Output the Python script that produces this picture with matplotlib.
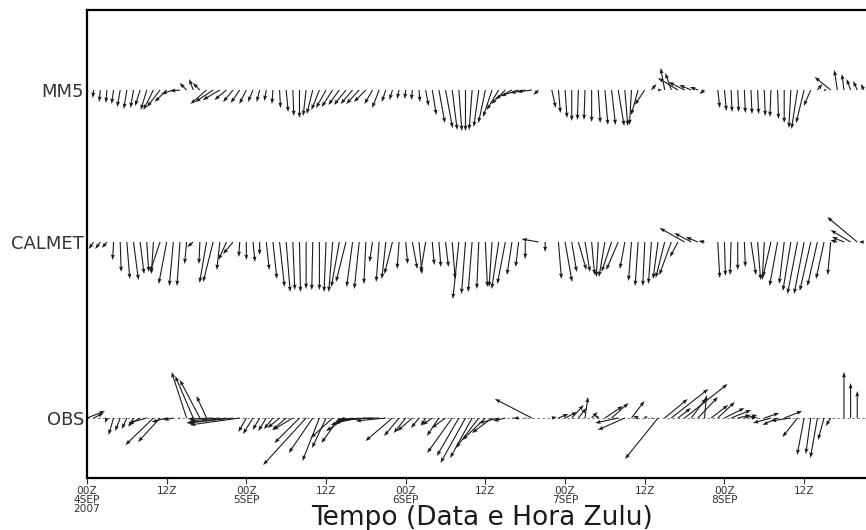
import numpy as np
import matplotlib
matplotlib.use('Agg')
import matplotlib.pyplot as plt

nan = np.nan
# hourly wind components (m/s) from 00Z 4SEP2007
hours = np.arange(118)

mm5_u = [-0.4,-0.2,-0.2,-0.2,-0.4,-0.6,-0.6,-0.6,-1.0,-1.2,-2.0,-2.6,-2.4,-2.4,-2.0,-1.4,-0.8,-1.4,-3.2,-3.6,
         -3.4,-2.4,-2.0,-1.8,-1.4,-1.0,-0.6,-0.4,-0.2,0.2,0.4,0.2,0.0,-0.6,-1.2,-1.6,-2.0,-2.2,-2.2,-2.4,
         -2.4,-2.6,-2.4,-1.6,-1.4,-0.8,-0.6,-0.4,-0.2,-0.2,0.2,0.6,0.8,1.2,1.4,1.0,0.6,0.0,-0.6,-1.0,
         -1.4,-1.8,-2.4,-2.8,-3.4,-3.6,-3.0,-3.0,-1.0,nan,0.8,0.4,0.4,0.0,-0.2,-0.2,0.0,0.4,0.6,0.8,
         1.2,0.6,-0.4,-1.4,-2.0,1.0,0.8,-0.8,-1.2,-4.0,-3.2,-2.4,-1.6,-1.0,nan,0.4,0.4,0.2,0.2,0.2,
         0.2,0.2,0.2,-0.2,0.2,0.0,-0.4,-1.2,-1.6,-1.4,1.0,0.6,-3.2,-0.6,-0.4,-0.8,-0.8,-0.6]
mm5_v = [-1.2,-1.6,-2.4,-2.6,-2.8,-3.4,-3.8,-3.6,-3.2,-4.0,-4.0,-3.4,-2.4,-0.8,-0.2,1.4,2.2,1.4,-2.8,-2.4,
         -2.0,-2.0,-2.4,-2.6,-2.8,-2.4,-2.4,-2.2,-2.8,-3.6,-4.4,-5.2,-5.6,-5.2,-4.8,-4.0,-3.6,-3.4,-3.0,-3.0,
         -2.8,-2.8,-2.4,-2.8,-3.6,-2.4,-2.0,-1.8,-1.8,-2.0,-2.4,-3.2,-5.0,-6.6,-7.6,-8.0,-8.2,-8.2,-8.0,-7.4,
         -6.6,-5.4,-4.0,-2.8,-1.8,-1.2,-0.6,-0.4,-1.0,nan,-3.6,-4.6,-5.6,-6.2,-6.0,-6.0,-6.4,-6.6,-7.0,-7.0,
         -7.2,-7.2,-7.0,-5.0,-3.0,1.2,0.0,4.4,3.4,2.4,1.6,1.0,0.6,-0.8,nan,-3.6,-4.2,-4.4,-4.4,-4.6,
         -4.8,-4.8,-5.2,-5.4,-5.8,-6.6,-7.6,-7.8,-6.6,-3.2,1.2,0.0,2.6,4.0,3.2,2.2,1.8,1.2]

calmet_u = [-0.6,-1.0,-1.0,-1.0,-0.2,0.2,0.6,1.0,0.8,0.4,-0.4,-2.0,-1.6,-0.8,-0.6,-0.4,-1.2,-0.2,-1.4,-2.0,
            -0.6,-1.6,-2.0,-0.2,0.0,0.4,0.0,0.6,0.8,1.0,0.8,0.4,0.2,0.0,-0.2,0.0,-0.4,-0.8,-1.6,-2.0,
            -1.2,-1.0,-0.4,-0.6,-0.6,-0.8,-1.6,-0.4,0.4,1.0,0.6,-1.0,0.4,0.4,0.6,0.6,-1.2,-0.8,-0.8,-0.4,
            0.4,-0.6,-1.4,-1.6,-1.0,-0.6,0.0,nan,-3.4,0.0,nan,0.6,1.4,1.0,1.6,1.0,0.6,-0.4,-1.2,-2.0,
            -2.4,-1.0,-0.6,-0.6,-0.4,-0.6,-1.0,-1.8,-2.4,-1.6,-5.0,-3.4,-2.4,-1.2,nan,0.4,0.2,-0.2,0.0,0.2,
            1.0,0.6,-0.4,-1.6,-1.6,-1.0,-1.6,-2.0,-2.0,-2.2,-2.0,-1.6,-0.6,-1.4,-2.4,-4.0,-6.0,-1.0]
calmet_v = [-1.0,-1.4,-1.4,-1.2,-3.6,-6.0,-7.4,-7.6,-6.4,-6.0,-6.4,-6.0,-8.4,-8.8,-8.8,-4.4,-1.0,-4.4,-8.2,-8.0,
            -5.6,-3.6,-2.4,-3.0,-3.6,-4.0,-2.6,-5.6,-7.4,-9.0,-10.0,-9.6,-10.0,-9.4,-9.6,-9.6,-10.0,-10.0,-9.0,-8.0,
            -9.0,-9.4,-8.4,-4.0,-8.0,-7.4,-6.4,-5.4,-4.4,-5.4,-6.4,-6.0,-4.6,-5.0,-5.0,-7.4,-11.4,-10.4,-10.0,-9.4,
            -9.0,-9.0,-9.4,-8.4,-6.6,-5.0,-3.4,nan,0.6,-2.0,nan,-7.4,-8.0,-6.0,-5.6,-6.0,-6.6,-7.0,-7.0,-6.0,
            -5.6,-5.4,-7.8,-8.8,-8.8,-8.4,-7.4,-7.2,-6.6,-3.0,2.8,1.8,1.0,0.2,nan,-7.2,-6.8,-6.6,-5.6,-5.0,
            -6.6,-7.6,-7.6,-7.0,-8.8,-8.4,-9.8,-10.4,-10.4,-9.8,-8.8,-7.4,-6.6,0.4,1.0,2.4,5.0,0.0]

obs_u = [3.6,2.0,0.2,-0.4,-1.0,-1.0,-1.0,-1.0,-2.4,-3.6,-5.6,-4.4,-3.0,-2.0,-0.4,-3.0,-3.6,-4.0,-2.0,-5.0,
         -6.0,-8.0,-9.0,-10.0,-1.6,-2.0,-1.4,-1.6,-1.8,-2.4,-2.8,-4.0,-5.0,-8.6,-4.8,-3.4,-2.8,-4.4,-3.6,-4.0,
         -4.4,-5.0,-6.0,-7.0,-8.0,-6.0,-5.4,-3.0,-2.4,-3.0,-1.6,-1.0,-2.0,-2.4,-2.8,-5.0,-4.4,-5.0,-4.4,-4.6,
         -4.6,-4.0,-4.0,-2.4,0.4,-1.0,0.4,-7.4,nan,nan,1.0,2.0,2.4,2.4,1.6,0.6,1.2,-0.6,3.6,3.4,
         -4.6,-5.4,2.6,-1.0,0.6,0.4,-6.6,4.6,7.4,2.6,8.6,3.0,4.0,0.4,3.4,3.4,4.0,4.0,2.6,2.6,
         1.2,-0.4,3.0,-3.6,-3.0,3.6,-4.0,-3.0,-1.4,-1.0,-1.4,-1.2,-1.0,nan,0.0,0.0,0.0,nan]
obs_v = [1.4,1.0,0.0,-1.0,-3.4,-2.6,-2.2,-1.8,-1.4,-1.0,-5.4,-4.8,-0.8,-0.4,0.0,9.2,8.4,7.6,4.4,-0.2,
         -0.6,-1.0,-1.0,-1.4,-2.8,-3.2,-2.4,-2.6,-2.2,-2.0,-2.4,-2.4,-5.0,-9.4,-7.0,-8.6,-6.0,-4.0,-5.0,-2.6,
         -1.4,-1.0,-0.6,-0.4,-0.2,-0.6,-4.6,-3.6,-3.0,-2.6,-2.0,-1.6,-1.4,-3.6,-2.0,-7.0,-7.6,-9.0,-8.0,-6.0,
         -4.4,-3.0,-1.0,-0.6,0.0,0.0,0.0,3.8,nan,nan,0.2,0.8,1.2,2.6,2.0,4.2,1.2,0.6,2.4,3.0,
         -1.0,-2.4,3.4,0.4,0.4,0.0,-8.2,3.8,5.8,2.0,6.8,4.0,4.2,4.6,2.6,3.2,2.0,1.6,0.6,0.6,
         0.2,0.0,1.0,-1.0,-1.4,1.4,-0.6,-3.8,-7.4,-7.2,-8.0,-4.4,-1.6,nan,9.2,7.0,5.4,nan]

series_names = ['MM5', 'CALMET', 'OBS']
tick_hours = [0, 12, 24, 36, 48, 60, 72, 84, 96, 108]
tick_labels = ['00Z\n4SEP\n2007', '12Z', '00Z\n5SEP', '12Z', '00Z\n6SEP',
               '12Z', '00Z\n7SEP', '12Z', '00Z\n8SEP', '12Z']
xlabel = 'Tempo (Data e Hora Zulu)'

W, H = 866, 530
fig = plt.figure(figsize=(W/100, H/100), dpi=100)
ax = fig.add_axes([87/W, 52/H, (880-87)/W, 468/H])
ax.set_xlim(0, (880-87)/6.64)
ax.set_ylim(0, 468)

row_y = {'MM5': 388, 'CALMET': 236, 'OBS': 60}
data = {'MM5': (mm5_u, mm5_v), 'CALMET': (calmet_u, calmet_v), 'OBS': (obs_u, obs_v)}

ax.plot([0, 119.4], [row_y['OBS']]*2, color='#666666', lw=0.6, ls=(0, (3, 3)), zorder=1)

for name in series_names:
    u, v = data[name]
    u = np.ma.masked_invalid(np.array(u, dtype=float))
    v = np.ma.masked_invalid(np.array(v, dtype=float))
    ax.quiver(hours, np.full(len(hours), row_y[name]), u, v,
              angles='uv', scale_units='dots', scale=0.2, units='dots',
              width=1.1, headwidth=3.6, headlength=5, headaxislength=4.5,
              pivot='tail', color='#1a1a1a', zorder=3)

ax.set_yticks([row_y[n] for n in series_names])
ax.set_yticklabels(series_names, fontsize=13, color='#333333', family='DejaVu Sans')
ax.tick_params(axis='y', length=0, pad=2)

ax.set_xticks(tick_hours)
ax.set_xticklabels(tick_labels, fontsize=7.6, color='#333333', linespacing=0.85)
ax.tick_params(axis='x', direction='out', length=4, width=0.8, pad=2, color='#333333')

for s in ['left', 'top', 'bottom']:
    ax.spines[s].set_linewidth(1.6)
    ax.spines[s].set_color('black')
ax.spines['right'].set_visible(False)

fig.text(482/W, (H-518)/H, xlabel, ha='center', va='center', fontsize=19, color='#1a1a1a')

fig.savefig('out.png', dpi=100)
